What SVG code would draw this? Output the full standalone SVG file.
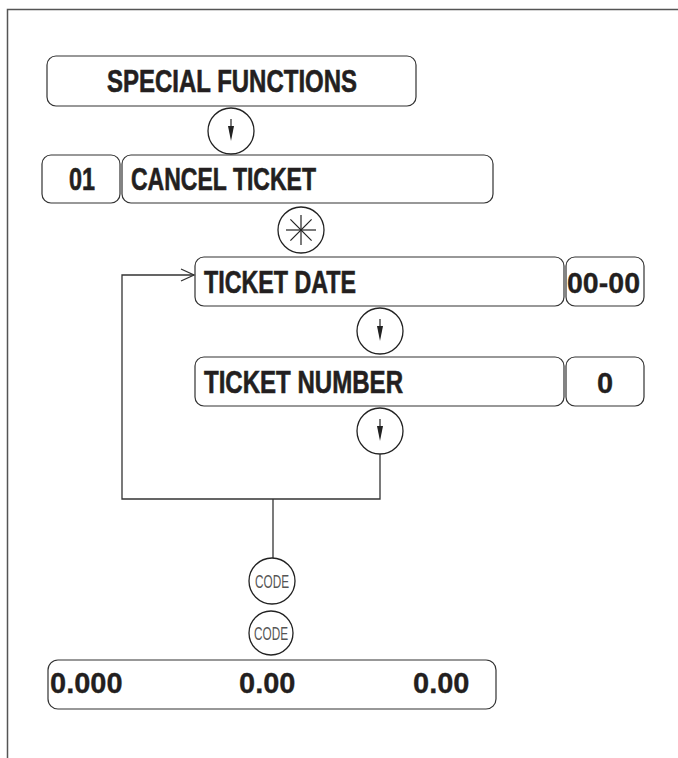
<svg xmlns="http://www.w3.org/2000/svg" width="678" height="758" viewBox="0 0 678 758">
<style>
.frame{fill:none;stroke:#555;stroke-width:1.5}
.box{fill:#fff;stroke:#333;stroke-width:1.2}
.key{fill:#fff;stroke:#222;stroke-width:1.3}
.wire{fill:none;stroke:#333;stroke-width:1.3}
.lbl{font-family:"Liberation Sans",Arial,sans-serif;font-weight:bold;font-size:31px;fill:#231f20;stroke:#231f20;stroke-width:0.6}
.num{font-family:"Liberation Sans",Arial,sans-serif;font-weight:bold;font-size:29px;fill:#231f20;stroke:#231f20;stroke-width:0.3}
.code{font-family:"Liberation Sans",Arial,sans-serif;font-size:19px;fill:#555}
.stem{stroke:#222;stroke-width:1.2}
.head{fill:#222}
</style>
<defs>
<g id="down">
<circle class="key" cx="0" cy="0" r="23"/>
<line class="stem" x1="0" y1="-12" x2="0" y2="-4"/>
<polygon class="head" points="-3,-5 3,-5 0,10"/>
</g>
</defs>
<path class="frame" d="M7.5,758 V9.5 H678"/>

<g id="special-functions">
<rect class="box" x="47" y="56" width="369" height="50" rx="9"/>
<text class="lbl" x="107" y="92" textLength="250" lengthAdjust="spacingAndGlyphs">SPECIAL FUNCTIONS</text>
</g>
<g id="key-down-1"><use href="#down" x="231" y="131"/></g>
<g id="code-01">
<rect class="box" x="42" y="155" width="78" height="48" rx="9"/>
<text class="lbl" x="69" y="190" textLength="26" lengthAdjust="spacingAndGlyphs">01</text>
</g>
<g id="cancel-ticket">
<rect class="box" x="122" y="155" width="371" height="48" rx="9"/>
<text class="lbl" x="131" y="190" textLength="185" lengthAdjust="spacingAndGlyphs">CANCEL TICKET</text>
</g>
<g id="key-star">
<circle class="key" cx="301" cy="230" r="23"/>
<g class="stem">
<line x1="301" y1="215" x2="301" y2="245"/>
<line x1="286" y1="230" x2="316" y2="230"/>
<line x1="290.4" y1="219.4" x2="311.6" y2="240.6"/>
<line x1="311.6" y1="219.4" x2="290.4" y2="240.6"/>
</g>
</g>
<g id="ticket-date">
<rect class="box" x="195" y="257" width="369" height="49" rx="9"/>
<text class="lbl" x="204" y="293" textLength="152" lengthAdjust="spacingAndGlyphs">TICKET DATE</text>
</g>
<g id="ticket-date-value">
<rect class="box" x="566" y="257" width="78" height="49" rx="9"/>
<text class="num" x="567" y="293" font-size="28" textLength="73" lengthAdjust="spacingAndGlyphs">00-00</text>
</g>
<g id="key-down-2"><use href="#down" x="380" y="331"/></g>
<g id="ticket-number">
<rect class="box" x="195" y="357" width="369" height="49" rx="9"/>
<text class="lbl" x="204" y="393" textLength="199" lengthAdjust="spacingAndGlyphs">TICKET NUMBER</text>
</g>
<g id="ticket-number-value">
<rect class="box" x="566" y="357" width="78" height="49" rx="9"/>
<text class="num" x="605" y="393" font-size="28" text-anchor="middle">0</text>
</g>
<g id="key-down-3"><use href="#down" x="380" y="431"/></g>

<g id="connectors">
<path class="wire" d="M380,454 V499 H122 V275 H194"/>
<polyline class="wire" points="181,269 194,275 181,281"/>
<path class="wire" d="M273,499 V558"/>
</g>

<g id="key-code-1">
<circle class="key" cx="272" cy="581" r="23"/>
<text class="code" x="272" y="588" text-anchor="middle" textLength="34" lengthAdjust="spacingAndGlyphs">CODE</text>
</g>
<g id="key-code-2">
<circle class="key" cx="271" cy="633" r="22"/>
<text class="code" x="271" y="640" text-anchor="middle" textLength="34" lengthAdjust="spacingAndGlyphs">CODE</text>
</g>

<g id="display">
<rect class="box" x="48" y="660" width="448" height="49" rx="10"/>
<text class="num" x="50" y="693">0.000</text>
<text class="num" x="239" y="693">0.00</text>
<text class="num" x="413" y="693">0.00</text>
</g>
</svg>
